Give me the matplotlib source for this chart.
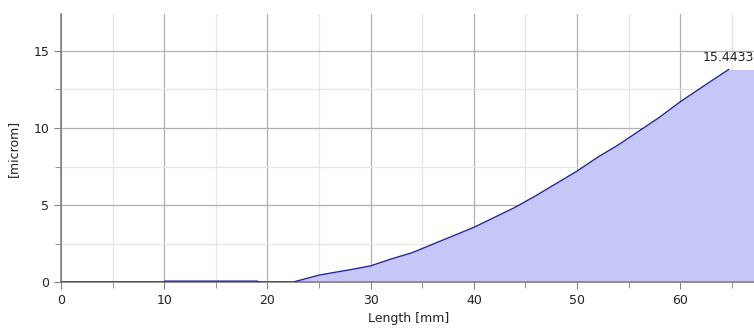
import matplotlib.pyplot as plt
from matplotlib.ticker import MultipleLocator

# profile
length_mm = [0, 10, 10.05, 19, 19.2, 22.5, 25, 28, 30, 32, 34, 36, 38, 40, 42,
             44, 46, 48, 50, 52, 54, 56, 58, 60, 62, 64.7]
height_um = [0, 0, 0.06, 0.06, 0, 0, 0.45, 0.8, 1.05, 1.5, 1.9, 2.45, 3.0, 3.55, 4.2,
             4.85, 5.6, 6.4, 7.2, 8.1, 8.9, 9.8, 10.7, 11.7, 12.6, 13.8]
x_end = 67.3
peak_label = "15.4433"
peak_pos = (67.2, 14.6)

fig = plt.figure(figsize=(7.54, 3.33), dpi=100)
ax = fig.add_axes([0.081, 0.153, 0.919 + 0.002, 0.805])

fill_x = length_mm + [x_end + 1]
fill_y = height_um + [height_um[-1]]
ax.fill_between(fill_x, 0, fill_y, color='#c6c6f7', linewidth=0, zorder=2)
ax.plot(length_mm, height_um, color='#2424a8', linewidth=1.0, zorder=3)

# value label at the end of the profile, kept inside the figure
ax.text(peak_pos[0], peak_pos[1], peak_label, ha='right', va='center',
        fontsize=9, color='#222222', zorder=4)

ax.set_xlim(0, x_end)
ax.set_ylim(0, 17.4)
ax.xaxis.set_major_locator(MultipleLocator(10))
ax.xaxis.set_minor_locator(MultipleLocator(5))
ax.yaxis.set_major_locator(MultipleLocator(5))
ax.yaxis.set_minor_locator(MultipleLocator(2.5))

ax.grid(which='major', color='#b0b0b0', linewidth=0.9, zorder=0)
ax.grid(which='minor', color='#e6e6e6', linewidth=0.9, zorder=0)
ax.set_axisbelow(True)

for s in ['top', 'right']:
    ax.spines[s].set_visible(False)
for s in ['left', 'bottom']:
    ax.spines[s].set_color('#808080')
    ax.spines[s].set_linewidth(1.2)

ax.tick_params(which='both', colors='#808080', labelcolor='#222222', labelsize=9)
ax.tick_params(which='major', length=5)
ax.tick_params(which='minor', length=4)

ax.set_xlabel('Length [mm]', fontsize=9, color='#222222', labelpad=4)
ax.set_ylabel('[microm]', fontsize=9, color='#222222', labelpad=10)

fig.savefig('out.png', dpi=100)
